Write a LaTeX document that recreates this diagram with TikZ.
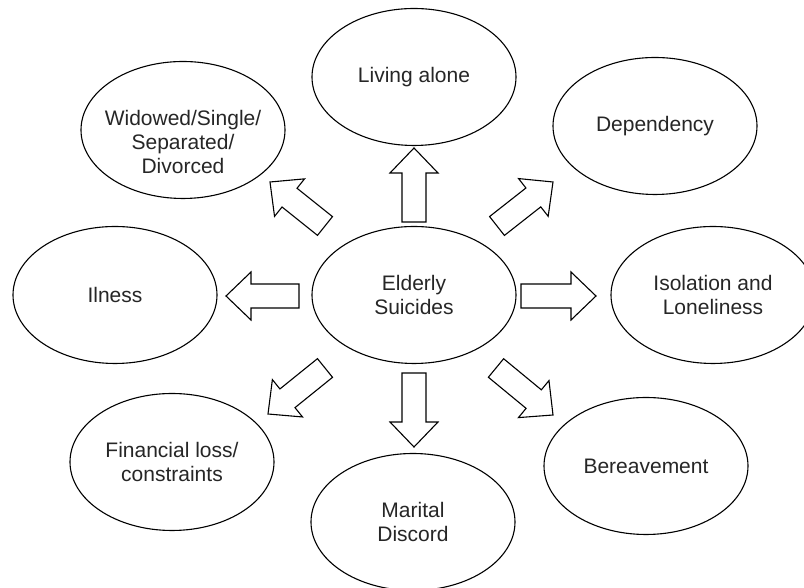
\documentclass[tikz,border=0pt]{standalone}
\usepackage{fontspec}
\setmainfont{Liberation Sans}
\usetikzlibrary{calc,shapes.geometric}
\tikzset{
  ell/.style={draw=black, line width=1.1pt, ellipse, minimum width=204pt, minimum height=137pt, inner sep=0pt},
  lbl/.style={font=\fontsize{21}{24}\selectfont, align=center, text=black!85, inner sep=0pt},
  blockarr/.style={draw=black, line width=1.1pt, fill=white, line join=miter},
}
\newcommand\blockarrow[2]{%
  \path ($(#2)!25pt!(#1)$) coordinate (#2-b);
  \draw[blockarr] ($(#1)!12pt!90:(#2)$) -- ($(#2-b)!12pt!-90:(#1)$) -- ($(#2-b)!24pt!-90:(#1)$) -- (#2) -- ($(#2-b)!24pt!90:(#1)$) -- ($(#2-b)!12pt!90:(#1)$) -- ($(#1)!12pt!-90:(#2)$) -- cycle;
}
\begin{document}
\begin{tikzpicture}[x=1pt,y=1pt]
\fill[white] (0,0) rectangle (804,588);
\clip (0,0) rectangle (804,588);

% ellipses
\node[ell] (eld) at (414,293) {};
\node[ell] (liv) at (414,511) {};
\node[ell] (wid) at (183,458) {};
\node[ell] (dep) at (655,462) {};
\node[ell] (ill) at (115,293) {};
\node[ell] (iso) at (713,293) {};
\node[ell] (fin) at (172,126) {};
\node[ell] (mar) at (413,66) {};
\node[ell] (ber) at (646,122) {};

% texts
\node[lbl] (eld-t) at (eld) {Elderly\\Suicides};
\node[lbl] (liv-t) at (liv) {Living alone};
\node[lbl] (wid-t) at ([yshift=-12pt]wid.center) {Widowed/Single/\\Separated/\\Divorced};
\node[lbl] (dep-t) at (dep) {Dependency};
\node[lbl] (ill-t) at (ill) {Ilness};
\node[lbl] (iso-t) at (iso) {Isolation and\\Loneliness};
\node[lbl] (fin-t) at (fin) {Financial loss/\\constraints};
\node[lbl] (mar-t) at (mar) {Marital\\Discord};
\node[lbl] (ber-t) at (ber) {Bereavement};

% arrow end points
\coordinate (upT) at (414,366); \coordinate (upP) at (414,440);
\coordinate (dnT) at (414,215); \coordinate (dnP) at (414,141);
\coordinate (lfT) at (299,292); \coordinate (lfP) at (226,292);
\coordinate (rtT) at (521,292); \coordinate (rtP) at (596,292);
\coordinate (nwT) at (325,362); \coordinate (nwP) at (270,406);
\coordinate (neT) at (497,362); \coordinate (neP) at (553,406);
\coordinate (swT) at (325,220); \coordinate (swP) at (268,174);
\coordinate (seT) at (496,220); \coordinate (seP) at (553,173);

\blockarrow{upT}{upP}
\blockarrow{dnT}{dnP}
\blockarrow{lfT}{lfP}
\blockarrow{rtT}{rtP}
\blockarrow{nwT}{nwP}
\blockarrow{neT}{neP}
\blockarrow{swT}{swP}
\blockarrow{seT}{seP}
\end{tikzpicture}
\end{document}
